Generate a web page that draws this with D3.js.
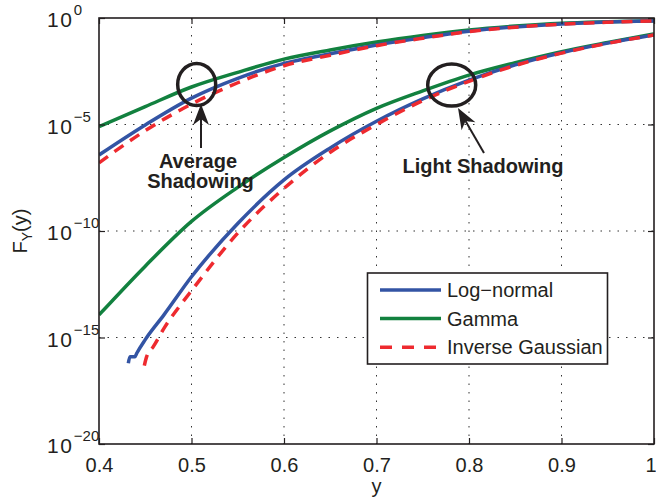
<!DOCTYPE HTML>
<html>
	<head>
		<title>CDF of Y for shadowing models</title>
		<script src="https://cdnjs.cloudflare.com/ajax/libs/d3/7.8.5/d3.min.js" charset="utf-8"></script>
		<style type="text/css">
			html, body {
				margin: 0;
				background: #fff;
			}
			text {
				font-family: 'Liberation Sans', Arial, Helvetica, sans-serif;
				fill: #231f20;
			}
			.grid line {
				stroke: #333;
				stroke-width: 1;
				stroke-dasharray: 1.5, 7;
			}
			.curve {
				fill: none;
				stroke-width: 3.5;
				stroke-linejoin: round;
			}
		</style>
	</head>
	<body>

	<svg id="chart" xmlns="http://www.w3.org/2000/svg" width="656" height="500"></svg>

		<script type="text/javascript">
			// x ticks and y decades
			var X_TICKS = [0.4, 0.5, 0.6, 0.7, 0.8, 0.9, 1];
			var X_TICK_LABELS = ["0.4", "0.5", "0.6", "0.7", "0.8", "0.9", "1"];
			var Y_TICK_EXP = [0, -5, -10, -15, -20];

			// values are log10 F_Y(y)
			var Y_COMMON = [0.40, 0.45, 0.50, 0.55, 0.60, 0.65, 0.70, 0.75, 0.80, 0.85, 0.90, 0.95, 1.00];

			// average shadowing
			var GAMMA_AVG   = [-5.10, -4.16, -3.24, -2.55, -1.93, -1.50, -1.13, -0.82, -0.56, -0.38, -0.25, -0.18, -0.13];
			var LOGN_AVG    = [-6.43, -5.02, -3.76, -2.83, -2.13, -1.68, -1.27, -0.93, -0.62, -0.42, -0.28, -0.19, -0.14];
			var INVG_AVG    = [-6.80, -5.29, -4.04, -3.04, -2.24, -1.75, -1.30, -0.95, -0.64, -0.43, -0.29, -0.20, -0.14];

			// light shadowing
			var GAMMA_LIGHT = [-13.94, -11.65, -9.55, -7.95, -6.55, -5.30, -4.24, -3.42, -2.68, -2.10, -1.58, -1.15, -0.75];
			var LOGN_LIGHT_Y = [0.4317, 0.4335, 0.4389, 0.4408, 0.45, 0.47, 0.50, 0.55, 0.60, 0.65, 0.70, 0.75, 0.80, 0.85, 0.90, 0.95, 1.00];
			var LOGN_LIGHT   = [-16.21, -15.90, -15.90, -15.74, -15.10, -13.95, -12.15, -9.65, -7.60, -6.10, -4.85, -3.80, -2.92, -2.20, -1.63, -1.18, -0.80];
			var INVG_LIGHT_Y = [0.4490, 0.4515, 0.4587, 0.4714, 0.4894, 0.50, 0.55, 0.60, 0.65, 0.70, 0.75, 0.80, 0.85, 0.90, 0.95, 1.00];
			var INVG_LIGHT   = [-16.32, -15.90, -15.43, -14.49, -13.40, -12.80, -10.10, -8.00, -6.30, -5.00, -3.88, -2.97, -2.23, -1.65, -1.19, -0.80];

			var SERIES_NAMES = ["Log\u2212normal", "Gamma", "Inverse Gaussian"];
			var SERIES_COLORS = ["#3354a4", "#12813f", "#ee2a2f"];

			var LEFT = 99, RIGHT = 654, TOP = 18, BOTTOM = 444;

			function zip(xs, es) {
				return xs.map(function (x, i) { return {x: x, f: Math.pow(10, es[i])}; });
			}

			var series = [
				{k: 1, pts: zip(Y_COMMON, GAMMA_AVG)},
				{k: 1, pts: zip(Y_COMMON, GAMMA_LIGHT)},
				{k: 0, pts: zip(Y_COMMON, LOGN_AVG)},
				{k: 0, pts: zip(LOGN_LIGHT_Y, LOGN_LIGHT)},
				{k: 2, pts: zip(Y_COMMON, INVG_AVG)},
				{k: 2, pts: zip(INVG_LIGHT_Y, INVG_LIGHT)}
			];

			var svg = d3.select("#chart");
			var x = d3.scaleLinear().domain([0.4, 1]).range([LEFT, RIGHT]);
			var y = d3.scaleLog().domain([1e-20, 1]).range([BOTTOM, TOP]);

			// grid
			var grid = svg.append("g").attr("class", "grid");
			grid.selectAll("line.gx")
				.data(X_TICKS.slice(1, -1))
				.enter().append("line")
				.attr("x1", function (d) { return x(d); }).attr("x2", function (d) { return x(d); })
				.attr("y1", TOP).attr("y2", BOTTOM);
			grid.selectAll("line.gy")
				.data(Y_TICK_EXP.slice(1, -1))
				.enter().append("line")
				.attr("x1", LEFT).attr("x2", RIGHT)
				.attr("y1", function (d) { return y(Math.pow(10, d)); })
				.attr("y2", function (d) { return y(Math.pow(10, d)); });

			// curves
			svg.append("clipPath").attr("id", "plot-clip")
				.append("rect").attr("x", LEFT).attr("y", TOP).attr("width", RIGHT - LEFT).attr("height", BOTTOM - TOP);

			var line = d3.line()
				.x(function (d) { return x(d.x); })
				.y(function (d) { return y(d.f); })
				.curve(d3.curveMonotoneX);

			svg.append("g").attr("clip-path", "url(#plot-clip)")
				.selectAll("path")
				.data(series)
				.enter().append("path")
				.attr("class", "curve")
				.attr("d", function (d) { return line(d.pts); })
				.attr("stroke", function (d) { return SERIES_COLORS[d.k]; })
				.attr("stroke-dasharray", function (d) { return d.k == 2 ? "11,8" : null; });

			// axes box with inward ticks
			var axisColor = "#231f20";
			svg.append("rect")
				.attr("x", LEFT).attr("y", TOP).attr("width", RIGHT - LEFT).attr("height", BOTTOM - TOP)
				.attr("fill", "none").attr("stroke", axisColor).attr("stroke-width", 1.6);

			var bottomAxis = d3.axisBottom(x).tickValues(X_TICKS).tickSizeInner(-6).tickSizeOuter(0).tickPadding(14)
				.tickFormat(function (d, i) { return X_TICK_LABELS[i]; });
			var gx = svg.append("g").attr("transform", "translate(0," + BOTTOM + ")").call(bottomAxis);
			gx.select(".domain").remove();
			gx.selectAll("line").attr("stroke", axisColor).attr("stroke-width", 1.2);
			gx.selectAll("text").attr("font-size", 20).attr("fill", axisColor).style("font-family", "'Liberation Sans', Arial, sans-serif");
			// last label sits on the page edge, keep it inside
			gx.selectAll("text").filter(function (d) { return d == 1; })
				.attr("text-anchor", "end").attr("x", 2);

			var topAxis = d3.axisTop(x).tickValues(X_TICKS).tickSizeInner(-6).tickSizeOuter(0).tickFormat("");
			var gxt = svg.append("g").attr("transform", "translate(0," + TOP + ")").call(topAxis);
			gxt.select(".domain").remove();
			gxt.selectAll("line").attr("stroke", axisColor).attr("stroke-width", 1.2);

			var yTickVals = Y_TICK_EXP.map(function (e) { return Math.pow(10, e); });
			var leftAxis = d3.axisLeft(y).tickValues(yTickVals).tickSizeInner(-6).tickSizeOuter(0).tickFormat("");
			var gyl = svg.append("g").attr("transform", "translate(" + LEFT + ",0)").call(leftAxis);
			gyl.select(".domain").remove();
			gyl.selectAll("line").attr("stroke", axisColor).attr("stroke-width", 1.2);

			var rightAxis = d3.axisRight(y).tickValues(yTickVals).tickSizeInner(-6).tickSizeOuter(0).tickFormat("");
			var gyr = svg.append("g").attr("transform", "translate(" + RIGHT + ",0)").call(rightAxis);
			gyr.select(".domain").remove();
			gyr.selectAll("line").attr("stroke", axisColor).attr("stroke-width", 1.2);

			// y tick labels, 10 with superscript exponent
			var yl = svg.append("g").selectAll("text")
				.data(Y_TICK_EXP)
				.enter().append("text")
				.attr("x", 47)
				.attr("y", function (d) { return y(Math.pow(10, d)) + 9; })
				.attr("font-size", 21);
			yl.append("tspan").attr("letter-spacing", 1.5).text("10");
			yl.append("tspan")
				.attr("font-size", 15)
				.attr("dx", 0.5)
				.attr("dy", -12)
				.text(function (d) { return d == 0 ? "0" : "\u2212" + (-d); });

			// axis labels
			svg.append("text")
				.attr("x", x(0.7)).attr("y", 493)
				.attr("text-anchor", "middle").attr("font-size", 20)
				.text("y");

			var ylab = svg.append("text")
				.attr("transform", "translate(27," + ((TOP + BOTTOM) / 2) + ") rotate(-90)")
				.attr("text-anchor", "middle").attr("font-size", 20);
			ylab.append("tspan").text("F");
			ylab.append("tspan").attr("font-size", 14).attr("dy", 5).text("Y");
			ylab.append("tspan").attr("dy", -5).text("(y)");

			// annotations
			var ann = svg.append("g");
			ann.append("ellipse")
				.attr("cx", x(0.5056)).attr("cy", y(Math.pow(10, -3.12)))
				.attr("rx", 19).attr("ry", 21)
				.attr("fill", "none").attr("stroke", "#231f20").attr("stroke-width", 3.5);
			ann.append("ellipse")
				.attr("cx", x(0.7813)).attr("cy", y(Math.pow(10, -3.15)))
				.attr("rx", 24).attr("ry", 21)
				.attr("fill", "none").attr("stroke", "#231f20").attr("stroke-width", 3.5);

			function arrow(x1, y1, x2, y2) {
				var a = Math.atan2(y2 - y1, x2 - x1);
				var len = 21, half = 8, notch = 15;
				var bx = x2 - len * Math.cos(a), by = y2 - len * Math.sin(a);
				var nx = x2 - notch * Math.cos(a), ny = y2 - notch * Math.sin(a);
				var px = -Math.sin(a), py = Math.cos(a);
				ann.append("line")
					.attr("x1", x1).attr("y1", y1).attr("x2", nx).attr("y2", ny)
					.attr("stroke", "#231f20").attr("stroke-width", 2);
				ann.append("path")
					.attr("d", "M" + x2 + "," + y2 +
						"L" + (bx + half * px) + "," + (by + half * py) +
						"L" + nx + "," + ny +
						"L" + (bx - half * px) + "," + (by - half * py) + "Z")
					.attr("fill", "#231f20");
			}
			arrow(201, 148, 201, 104);
			arrow(484, 153, 458, 108);

			ann.append("text").attr("x", 198).attr("y", 168)
				.attr("text-anchor", "middle").attr("font-size", 20).attr("font-weight", "bold")
				.text("Average");
			ann.append("text").attr("x", 200.5).attr("y", 188)
				.attr("text-anchor", "middle").attr("font-size", 20).attr("font-weight", "bold")
				.text("Shadowing");
			ann.append("text").attr("x", 483).attr("y", 173)
				.attr("text-anchor", "middle").attr("font-size", 20).attr("font-weight", "bold")
				.text("Light Shadowing");

			// legend
			var legend = svg.append("g");
			legend.append("rect")
				.attr("x", 367.5).attr("y", 273).attr("width", 240).attr("height", 91)
				.attr("fill", "#fff").attr("stroke", "#231f20").attr("stroke-width", 1.6);
			var rows = legend.selectAll("g.row")
				.data(SERIES_NAMES)
				.enter().append("g")
				.attr("transform", function (d, i) { return "translate(0," + (290 + i * 28.6) + ")"; });
			rows.append("line")
				.attr("x1", 380).attr("x2", 441).attr("y1", 0).attr("y2", 0)
				.attr("stroke", function (d, i) { return SERIES_COLORS[i]; })
				.attr("stroke-width", 3.5)
				.attr("stroke-dasharray", function (d, i) { return i == 2 ? "12,10" : null; });
			rows.append("text")
				.attr("x", 447).attr("y", 0).attr("dy", "0.35em")
				.attr("font-size", 20)
				.text(function (d) { return d; });

		</script>
	</body>
</html>
